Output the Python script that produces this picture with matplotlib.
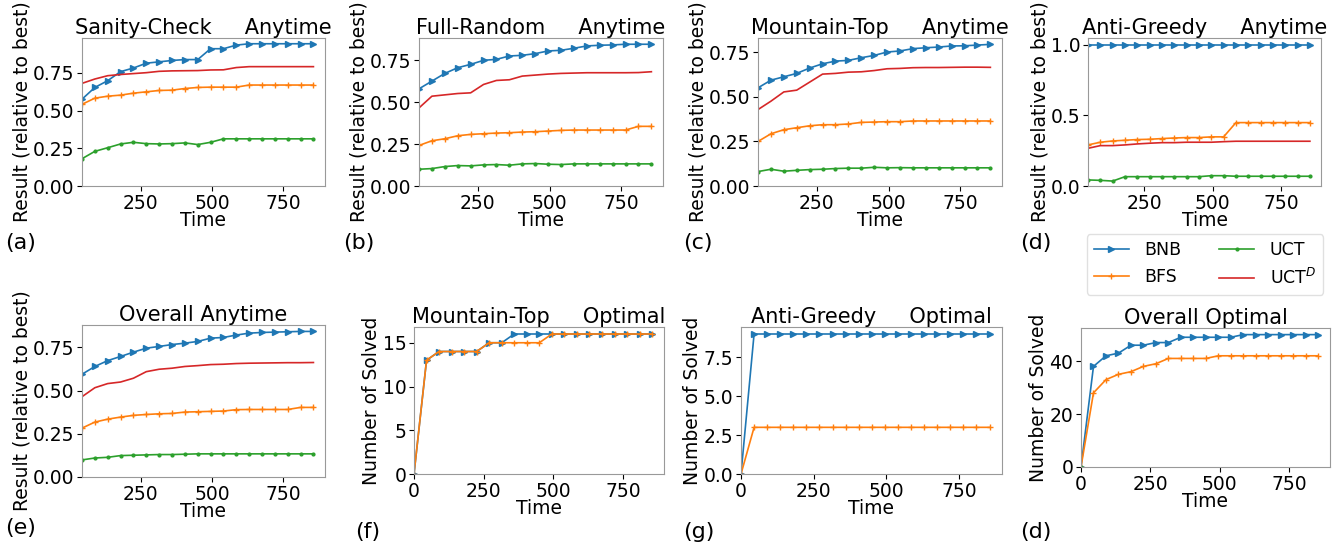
import matplotlib
matplotlib.use("Agg")
import matplotlib.pyplot as plt
from matplotlib.ticker import FormatStrFormatter

# ---------------- data ----------------
time_any = [45, 90, 135, 180, 225, 270, 315, 360, 405, 450, 495, 540, 585, 630, 675, 720, 765, 810, 855]
time_opt = [0] + time_any

# Sanity-Check anytime
sc_bnb = [0.576, 0.654, 0.699, 0.759, 0.783, 0.815, 0.824, 0.833, 0.839, 0.839, 0.911, 0.911, 0.935, 0.944, 0.944, 0.944, 0.944, 0.944, 0.944]
sc_bfs = [0.542, 0.583, 0.596, 0.603, 0.616, 0.625, 0.634, 0.636, 0.647, 0.654, 0.656, 0.656, 0.656, 0.670, 0.670, 0.670, 0.670, 0.670, 0.670]
sc_uct = [0.181, 0.230, 0.254, 0.279, 0.290, 0.281, 0.279, 0.281, 0.286, 0.275, 0.290, 0.313, 0.313, 0.313, 0.313, 0.313, 0.313, 0.313, 0.313]
sc_uctd = [0.681, 0.710, 0.732, 0.740, 0.746, 0.752, 0.761, 0.764, 0.765, 0.766, 0.770, 0.771, 0.786, 0.792, 0.792, 0.792, 0.792, 0.792, 0.792]

# Full-Random anytime
fr_bnb = [0.580, 0.626, 0.672, 0.706, 0.726, 0.750, 0.756, 0.776, 0.780, 0.790, 0.806, 0.810, 0.822, 0.836, 0.840, 0.842, 0.846, 0.846, 0.846]
fr_bfs = [0.242, 0.270, 0.282, 0.300, 0.308, 0.312, 0.316, 0.318, 0.322, 0.324, 0.328, 0.332, 0.334, 0.334, 0.334, 0.334, 0.334, 0.356, 0.356]
fr_uct = [0.100, 0.104, 0.116, 0.122, 0.120, 0.126, 0.128, 0.124, 0.132, 0.134, 0.130, 0.128, 0.132, 0.132, 0.132, 0.132, 0.132, 0.132, 0.132]
fr_uctd = [0.466, 0.536, 0.544, 0.552, 0.556, 0.606, 0.630, 0.634, 0.656, 0.662, 0.668, 0.672, 0.674, 0.676, 0.676, 0.676, 0.676, 0.677, 0.682]

# Mountain-Top anytime
mt_bnb = [0.551, 0.594, 0.613, 0.632, 0.662, 0.686, 0.701, 0.705, 0.720, 0.733, 0.752, 0.758, 0.771, 0.776, 0.780, 0.786, 0.787, 0.791, 0.795]
mt_bfs = [0.250, 0.293, 0.316, 0.327, 0.338, 0.344, 0.344, 0.348, 0.357, 0.359, 0.361, 0.361, 0.365, 0.365, 0.365, 0.365, 0.365, 0.365, 0.365]
mt_uct = [0.081, 0.094, 0.083, 0.088, 0.092, 0.094, 0.098, 0.100, 0.100, 0.105, 0.102, 0.103, 0.102, 0.102, 0.102, 0.102, 0.102, 0.102, 0.102]
mt_uctd = [0.429, 0.476, 0.528, 0.538, 0.583, 0.628, 0.632, 0.639, 0.641, 0.648, 0.658, 0.660, 0.664, 0.665, 0.665, 0.666, 0.667, 0.667, 0.666]

# Anti-Greedy anytime
ag_bnb = [1.0] * 19
ag_bfs = [0.291, 0.310, 0.319, 0.324, 0.329, 0.331, 0.336, 0.340, 0.343, 0.343, 0.348, 0.348, 0.449, 0.449, 0.449, 0.449, 0.449, 0.449, 0.449]
ag_uct = [0.043, 0.040, 0.035, 0.066, 0.066, 0.066, 0.066, 0.066, 0.066, 0.066, 0.073, 0.073, 0.069, 0.069, 0.069, 0.069, 0.069, 0.069, 0.069]
ag_uctd = [0.267, 0.286, 0.286, 0.291, 0.298, 0.303, 0.307, 0.307, 0.310, 0.310, 0.310, 0.314, 0.317, 0.317, 0.317, 0.317, 0.317, 0.317, 0.317]

# Overall anytime
oa_bnb = [0.595, 0.640, 0.674, 0.698, 0.723, 0.746, 0.756, 0.767, 0.775, 0.785, 0.804, 0.808, 0.822, 0.833, 0.837, 0.839, 0.841, 0.843, 0.843]
oa_bfs = [0.283, 0.318, 0.335, 0.347, 0.357, 0.362, 0.366, 0.368, 0.376, 0.378, 0.380, 0.382, 0.390, 0.391, 0.391, 0.391, 0.391, 0.403, 0.403]
oa_uct = [0.099, 0.110, 0.114, 0.124, 0.126, 0.128, 0.130, 0.130, 0.132, 0.134, 0.134, 0.134, 0.134, 0.134, 0.134, 0.134, 0.134, 0.134, 0.134]
oa_uctd = [0.465, 0.517, 0.541, 0.550, 0.572, 0.610, 0.624, 0.630, 0.640, 0.645, 0.651, 0.653, 0.657, 0.659, 0.660, 0.661, 0.662, 0.662, 0.663]

# Mountain-Top optimal (number solved)
mto_bnb = [0, 13, 14, 14, 14, 14, 15, 15, 16, 16, 16, 16, 16, 16, 16, 16, 16, 16, 16, 16]
mto_bfs = [0, 13, 14, 14, 14, 14, 15, 15, 15, 15, 15, 16, 16, 16, 16, 16, 16, 16, 16, 16]

# Anti-Greedy optimal
ago_bnb = [0] + [9] * 19
ago_bfs = [0] + [3] * 19

# Overall optimal
oo_bnb = [0, 38, 42, 43, 46, 46, 47, 47, 49, 49, 49, 49, 49, 50, 50, 50, 50, 50, 50, 50]
oo_bfs = [0, 28, 33, 35, 36, 38, 39, 41, 41, 41, 41, 42, 42, 42, 42, 42, 42, 42, 42, 42]
oo_uct_time = [0]
oo_uct = [0]

series_names = ["BNB", "BFS", "UCT", r"UCT$^D$"]
panel_letters = ["(a)", "(b)", "(c)", "(d)", "(e)", "(f)", "(g)", "(d)"]

# tick values
anytime_yticks = [0.0, 0.25, 0.5, 0.75]
antigreedy_yticks = [0.0, 0.5, 1.0]
mto_yticks = [0, 5, 10, 15]
ago_yticks = [0.0, 2.5, 5.0, 7.5]
oo_yticks = [0, 20, 40]
anytime_xticks = [250, 500, 750]
optimal_xticks = [0, 250, 500, 750]

# ---------------- styles ----------------
C_BNB = "#1f77b4"
C_BFS = "#ff7f0e"
C_UCT = "#2ca02c"
C_UCTD = "#d62728"
LW = 1.2
TICK_FS = 13.5
LABEL_FS = 13.5
TITLE_FS = 15

W, H = 1341, 545
fig = plt.figure(figsize=(W / 100, H / 100), dpi=100)


def make_ax(l, t, r, b):
    ax = fig.add_axes([l / W, 1 - b / H, (r - l) / W, (b - t) / H])
    for s in ax.spines.values():
        s.set_color("0.6")
    ax.tick_params(labelsize=TICK_FS, pad=2)
    return ax


def anytime(ax, bnb, bfs, uct, uctd, title, yticks, yfmt):
    l1, = ax.plot(time_any, bnb, color=C_BNB, lw=LW, marker=">", ms=4, label=series_names[0])
    l2, = ax.plot(time_any, bfs, color=C_BFS, lw=LW, marker="+", ms=5, label=series_names[1])
    l3, = ax.plot(time_any, uct, color=C_UCT, lw=LW, marker=".", ms=4, label=series_names[2])
    l4, = ax.plot(time_any, uctd, color=C_UCTD, lw=LW, label=series_names[3])
    ax.set_xlim(left=time_any[0])
    ax.set_ylim(bottom=0)
    ax.set_xticks(anytime_xticks)
    ax.set_yticks(yticks)
    ax.yaxis.set_major_formatter(FormatStrFormatter(yfmt))
    ax.set_title(title, fontsize=TITLE_FS, pad=3)
    ax.set_xlabel("Time", fontsize=LABEL_FS, labelpad=-1)
    ax.set_ylabel("Result (relative to best)", fontsize=LABEL_FS, labelpad=1)
    return [l1, l2, l3, l4]


def optimal(ax, bnb, bfs, title, yticks, yfmt):
    ax.plot(time_opt, bnb, color=C_BNB, lw=LW, marker=">", ms=4)
    ax.plot(time_opt, bfs, color=C_BFS, lw=LW, marker="+", ms=5)
    ax.set_xlim(left=0)
    ax.set_ylim(bottom=0)
    ax.set_xticks(optimal_xticks)
    ax.set_yticks(yticks)
    ax.yaxis.set_major_formatter(FormatStrFormatter(yfmt))
    ax.set_title(title, fontsize=TITLE_FS, pad=3)
    ax.set_xlabel("Time", fontsize=LABEL_FS, labelpad=-1)
    ax.set_ylabel("Number of Solved", fontsize=LABEL_FS, labelpad=1)


ax_a = make_ax(82, 38, 325, 186)
handles = anytime(ax_a, sc_bnb, sc_bfs, sc_uct, sc_uctd, "Sanity-Check     Anytime", anytime_yticks, "%.2f")
ax_b = make_ax(419, 38, 663, 186)
anytime(ax_b, fr_bnb, fr_bfs, fr_uct, fr_uctd, "Full-Random     Anytime", anytime_yticks, "%.2f")
ax_c = make_ax(758, 38, 1002, 186)
anytime(ax_c, mt_bnb, mt_bfs, mt_uct, mt_uctd, "Mountain-Top     Anytime", anytime_yticks, "%.2f")
ax_d = make_ax(1088, 38, 1321, 186)
anytime(ax_d, ag_bnb, ag_bfs, ag_uct, ag_uctd, "Anti-Greedy     Anytime", antigreedy_yticks, "%.1f")

ax_e = make_ax(82, 325, 325, 477)
anytime(ax_e, oa_bnb, oa_bfs, oa_uct, oa_uctd, "Overall Anytime", anytime_yticks, "%.2f")
ax_f = make_ax(414, 327, 664, 474)
optimal(ax_f, mto_bnb, mto_bfs, "Mountain-Top     Optimal", mto_yticks, "%d")
ax_g = make_ax(741, 327, 1002, 474)
optimal(ax_g, ago_bnb, ago_bfs, "Anti-Greedy     Optimal", ago_yticks, "%.1f")
ax_h = make_ax(1081, 328, 1330, 467)
optimal(ax_h, oo_bnb, oo_bfs, "Overall Optimal", oo_yticks, "%d")
ax_h.plot(oo_uct_time, oo_uct, color=C_UCT, marker=".", ms=4, lw=LW)
ax_h.set_xlim(left=0)
ax_h.set_ylim(bottom=0)

# panel letters
letter_pos = [(5, 243), (343, 243), (683, 243), (1020, 243),
              (5, 528), (355, 532), (683, 532), (1020, 532)]
for (x, y), txt in zip(letter_pos, panel_letters):
    fig.text(x / W, 1 - y / H, txt, fontsize=16, ha="left", va="center")

# legend
fig.legend(handles, series_names, loc="center", ncol=2,
           bbox_to_anchor=(1205 / W, 1 - 264.5 / H), fontsize=12.5,
           columnspacing=2.2, handlelength=2.0, handletextpad=0.9,
           frameon=True, edgecolor="0.85")

fig.savefig("out.png", dpi=100)
